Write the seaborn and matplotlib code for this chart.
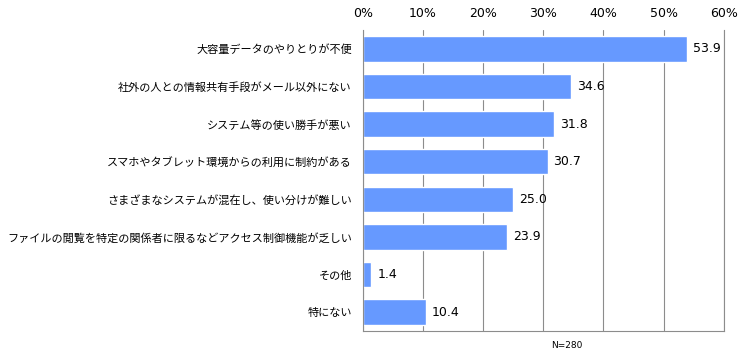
import numpy as np
import pandas as pd
import matplotlib
matplotlib.use("Agg")
import matplotlib.pyplot as plt
import seaborn as sns

# Data
categories = [
    "大容量データのやりとりが不便",
    "社外の人との情報共有手段がメール以外にない",
    "システム等の使い勝手が悪い",
    "スマホやタブレット環境からの利用に制約がある",
    "さまざまなシステムが混在し、使い分けが難しい",
    "ファイルの閲覧を特定の関係者に限るなどアクセス制御機能が乏しい",
    "その他",
    "特にない",
]
values = [53.9, 34.6, 31.8, 30.7, 25.0, 23.9, 1.4, 10.4]
x_ticks = [0, 10, 20, 30, 40, 50, 60]
note = "N=280"

df = pd.DataFrame({"item": categories, "pct": values})

sns.set_style("white")
plt.rcParams["font.family"] = ["Noto Sans CJK JP", "DejaVu Sans"]
plt.rcParams["text.color"] = "black"
plt.rcParams["xtick.color"] = "black"
plt.rcParams["ytick.color"] = "black"

fig = plt.figure(figsize=(7.4, 3.56), dpi=100)
ax = fig.add_axes([0.4905, 0.0702, 0.4875, 0.8455])

sns.barplot(data=df, x="pct", y="item", orient="h", color="#6699FF",
            saturation=1, width=0.68, ax=ax)

ax.set_xlim(0, 60)
ax.set_ylim(len(categories) - 0.5, -0.5)
ax.set_xticks(x_ticks)
ax.set_xticklabels([f"{t}%" for t in x_ticks], fontsize=9, family="DejaVu Sans")
ax.xaxis.tick_top()
ax.tick_params(axis="x", length=0, pad=7)
ax.set_xlabel("")
ax.set_ylabel("")

# gridlines
ax.grid(axis="x", color="#8c8c8c", linewidth=0.8)
ax.set_axisbelow(True)

# y-axis: labels at centres, tick marks at boundaries
ax.tick_params(axis="y", which="major", length=0, pad=8, labelsize=8)
ax.set_yticks(np.arange(-0.5, len(categories), 1), minor=True)
ax.tick_params(axis="y", which="minor", length=5, color="#8c8c8c", width=0.8)

ax.spines["top"].set_visible(False)
for side in ["left", "bottom", "right"]:
    ax.spines[side].set_color("#8c8c8c")
    ax.spines[side].set_linewidth(0.8)

for i, v in enumerate(values):
    ax.text(v + 1.0, i, f"{v:.1f}", va="center", ha="left", fontsize=9,
            family="DejaVu Sans")

fig.text(0.766, 0.03, note, fontsize=6.5, ha="center", va="center",
         family="DejaVu Sans")

fig.savefig("out.png", dpi=100)
